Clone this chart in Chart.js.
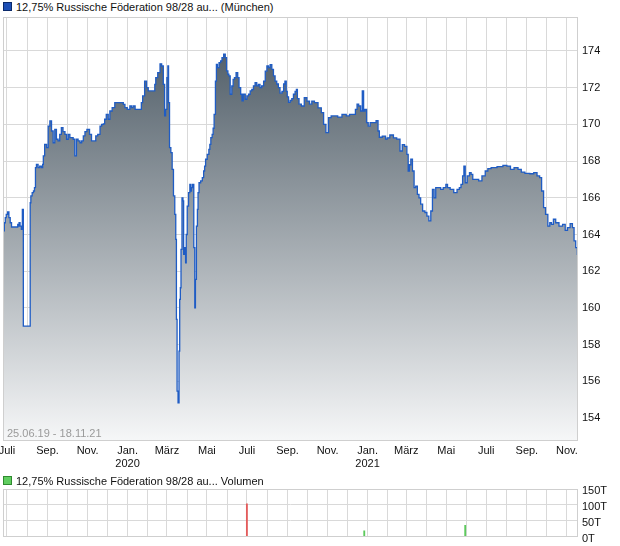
<!DOCTYPE html>
<html>
<head>
<meta charset="utf-8">
<script src="https://cdn.jsdelivr.net/npm/chart.js@4.4.1/dist/chart.umd.min.js"></script>
<style>
  html, body { margin: 0; padding: 0; background: #fff; }
  body { width: 620px; height: 546px; position: relative; overflow: hidden; font-family: 'Liberation Sans', Arial, sans-serif; }
  .legend { position: absolute; left: 16px; font-size: 11px; color: #111; white-space: nowrap; line-height: 14px; }
  .sq { position: absolute; left: 3px; width: 7px; height: 7px; border: 1px solid; }
  #range { position: absolute; left: 7px; top: 427px; font-size: 11px; color: #9a9a9a; white-space: nowrap; }
  #mainWrap { position: absolute; left: 0; top: 0; width: 620px; height: 475px; }
  #volWrap { position: absolute; left: 0; top: 470px; width: 620px; height: 76px; }
</style>
</head>
<body>
<div class="sq" style="top:2px;background:#1d4fb5;border-color:#0b2a6b;"></div>
<div class="legend" style="top:0px;">12,75% Russische Föderation 98/28 au... (München)</div>
<div id="mainWrap"><canvas id="main" width="620" height="475"></canvas></div>
<div class="sq" style="top:476px;background:#5fcd5f;border-color:#2f8a2f;"></div>
<div class="legend" style="top:474px;">12,75% Russische Föderation 98/28 au... Volumen</div>
<div id="volWrap"><canvas id="vol" width="620" height="76"></canvas></div>
<div id="range">25.06.19 - 18.11.21</div>
<script>
// Tage seit 25.06.2019 (Start) bis 18.11.2021 (Ende)
const startDate = Date.UTC(2019, 5, 25);
const totalDays = 877;

const priceDays = [0,1,3,4,6,8,10,12,14,22,23,24,25,27,29,30,32,41,42,43,46,47,49,50,52,55,57,60,61,62,65,68,70,73,75,78,80,83,85,88,90,93,96,98,101,103,106,108,111,113,116,119,121,124,126,130,134,136,141,142,147,149,152,154,156,159,162,164,169,172,182,185,187,192,195,197,200,203,210,212,214,218,220,223,231,232,234,238,241,243,246,247,249,251,252,253,255,257,259,261,263,264,265,266,268,269,270,271,272,274,275,276,278,279,280,282,284,286,287,288,290,292,293,294,296,297,298,300,303,305,307,308,310,313,315,316,318,320,321,323,325,326,328,331,333,335,338,340,342,344,345,348,350,352,354,357,359,361,364,365,368,371,373,376,378,381,383,386,388,391,393,396,399,401,404,406,409,411,414,416,419,421,424,427,429,431,433,434,437,439,442,444,447,448,450,453,457,462,465,470,472,478,483,488,490,495,498,503,508,513,521,526,531,536,539,541,544,547,549,551,553,556,558,562,567,571,573,575,582,585,587,593,598,603,608,610,615,617,619,621,623,626,628,631,633,636,638,642,645,648,651,654,656,659,661,666,669,674,677,679,685,690,695,697,700,702,704,706,710,713,715,718,723,728,733,738,741,748,759,766,771,777,782,789,792,800,807,812,817,820,823,826,829,833,835,838,841,845,851,856,859,863,867,870,872,875,877];

const prices = [164.7,164.2,164.64,164.92,165.1,165.23,164.92,164.64,164.41,164.41,164.55,164.46,164.64,164.46,164.28,165.37,159.01,159.01,165.73,166.1,166.28,166.37,166.55,167.64,167.82,167.64,167.73,167.64,167.82,168.28,168.91,168.73,169.91,170.19,169.64,169.0,169.73,169.19,169.1,169.46,169.82,169.6,169.46,169.19,169.46,169.28,169.28,169.19,168.28,169.19,169.1,169.0,169.1,169.37,169.6,169.73,169.46,169.1,169.1,169.37,169.46,169.91,170.0,170.03,170.28,170.55,170.28,170.73,170.91,171.18,171.18,171.09,170.91,170.82,171.0,170.91,171.0,170.82,170.82,171.18,171.55,172.36,172.0,171.82,171.82,172.18,172.55,172.82,173.3,173.18,172.18,170.46,170.82,172.55,173.18,171.18,168.73,168.46,167.55,166.1,165.1,163.74,159.38,155.47,154.83,157.65,160.47,161.1,163.19,166.0,165.83,162.92,163.28,162.46,164.0,165.55,166.28,166.73,166.37,166.55,166.73,163.28,160.01,161.56,164.46,165.37,166.28,166.82,166.92,167.1,167.46,167.73,168.1,168.37,168.64,168.91,169.28,169.46,169.79,170.55,172.36,173.27,173.09,173.36,173.46,173.64,173.82,173.64,172.91,172.73,172.64,171.64,172.09,172.45,172.55,172.82,172.55,172.0,171.64,171.28,171.64,171.37,171.55,171.64,171.82,171.9,172.1,172.27,172.1,172.18,172.0,172.1,172.36,172.9,173.18,173.1,173.25,173.0,172.64,172.36,172.2,172.0,171.7,171.8,172.2,172.36,171.8,171.5,171.2,171.3,171.4,171.64,171.8,171.9,171.4,171.1,171.0,171.45,171.27,171.1,171.27,171.18,170.9,170.64,170.0,169.55,170.37,170.46,170.46,170.4,170.55,170.46,170.55,170.55,170.82,171.1,171.0,170.73,171.82,170.73,170.82,170.1,169.9,170.1,170.1,170.2,169.64,169.3,169.36,169.2,169.27,169.42,169.27,169.2,168.55,168.9,168.8,168.37,167.46,167.8,168.1,167.46,166.55,166.64,166.19,166.0,165.65,165.28,165.2,165.0,164.74,165.28,166.46,166.0,166.55,166.55,166.46,166.55,166.73,166.55,166.46,166.28,166.46,166.55,166.73,167.19,167.73,166.82,167.19,167.37,167.28,167.0,167.0,166.92,167.19,167.46,167.59,167.64,167.7,167.77,167.73,167.55,167.64,167.55,167.4,167.33,167.31,167.37,167.19,167.1,166.37,165.46,165.1,164.46,164.64,164.55,164.83,164.64,164.46,164.55,164.23,164.37,164.59,164.37,163.65,163.28,162.92];

// Volumen (Tausend Stück)
const volumeDays = [372, 551, 705];
const volumes = [103, 18, 35];
const volumeUp = [false, true, true];

const priceTicks = [154,156,158,160,162,164,166,168,170,172,174];
const volumeTicks = [0, 50, 100, 150];
const monthNames = ['Jan.', '', 'März', '', 'Mai', '', 'Juli', '', 'Sep.', '', 'Nov.', ''];

// month-start ticks
const monthTicks = [];
const monthLabels = {};
for (let y = 2019, m = 6; ; ) {
  const d = Math.round((Date.UTC(y, m, 1) - startDate) / 86400000);
  if (d > totalDays) break;
  monthTicks.push(d);
  let lab = monthNames[m];
  if (m === 0) lab = [lab, String(y)];
  monthLabels[d] = lab;
  m++; if (m > 11) { m = 0; y++; }
}

const GRID = '#d9d9d9';
const FONT = "'Liberation Sans', Arial, sans-serif";

const boxPlugin = {
  id: 'box',
  afterDraw(chart) {
    const { ctx, chartArea: a } = chart;
    ctx.save();
    ctx.strokeStyle = '#cfcfcf';
    ctx.lineWidth = 1;
    ctx.strokeRect(Math.round(a.left) + 0.5, Math.round(a.top) + 0.5, Math.round(a.right - a.left) - 1, Math.round(a.bottom - a.top) - 1);
    ctx.restore();
  }
};

const xScale = (showLabels, h) => ({
  type: 'linear', min: 0, max: totalDays, offset: false,
  afterBuildTicks: s => { s.ticks = monthTicks.map(v => ({ value: v })); },
  afterFit: s => { s.height = h; s.paddingLeft = 0; s.paddingRight = 0; },
  ticks: {
    display: showLabels, autoSkip: false, maxRotation: 0, minRotation: 0, padding: 3,
    color: '#111', font: { family: FONT, size: 11, lineHeight: 1.18 },
    callback: v => monthLabels[v] !== undefined ? monthLabels[v] : ''
  },
  grid: { color: GRID, lineWidth: 1, drawTicks: false, offset: false },
  border: { display: false }
});

new Chart(document.getElementById('main'), {
  type: 'line',
  data: {
    datasets: [{
      data: priceDays.map((d, i) => ({ x: d, y: prices[i] })),
      borderColor: '#1f5cc4',
      borderWidth: 1.3,
      pointRadius: 0,
      stepped: 'middle',
      fill: 'start',
      backgroundColor: (c) => {
        const a = c.chart.chartArea;
        if (!a) return 'rgba(0,0,0,0)';
        const g = c.chart.ctx.createLinearGradient(0, a.top, 0, a.bottom);
        g.addColorStop(0, '#45535e');
        g.addColorStop(1, '#f6f7f8');
        return g;
      }
    }]
  },
  options: {
    responsive: false, animation: false,
    layout: { padding: { left: 3, top: 17, right: 0, bottom: 0 } },
    plugins: { legend: { display: false }, tooltip: { enabled: false } },
    scales: {
      x: xScale(true, 34),
      y: {
        position: 'right', min: 152.75, max: 175.85,
        afterBuildTicks: s => { s.ticks = priceTicks.map(v => ({ value: v })); },
        afterFit: s => { s.width = 42; s.paddingTop = 0; s.paddingBottom = 0; },
        ticks: { autoSkip: false, padding: 4, color: '#111', font: { family: FONT, size: 11 }, callback: v => String(v) },
        grid: { color: GRID, lineWidth: 1, drawTicks: false },
        border: { display: false }
      }
    }
  },
  plugins: [boxPlugin]
});

new Chart(document.getElementById('vol'), {
  type: 'bar',
  data: {
    datasets: [{
      data: volumeDays.map((d, i) => ({ x: d, y: volumes[i] })),
      backgroundColor: volumeUp.map(u => u ? '#5cc95c' : '#e35b5b'),
      barThickness: 1.2
    }]
  },
  options: {
    responsive: false, animation: false,
    layout: { padding: { left: 3, top: 19, right: 0, bottom: 0 } },
    plugins: { legend: { display: false }, tooltip: { enabled: false } },
    scales: {
      x: xScale(false, 9.5),
      y: {
        position: 'right', min: 0, max: 150,
        afterBuildTicks: s => { s.ticks = volumeTicks.map(v => ({ value: v })); },
        afterFit: s => { s.width = 42; s.paddingTop = 0; s.paddingBottom = 0; },
        ticks: { autoSkip: false, padding: 4, labelOffset: 2, color: '#111', font: { family: FONT, size: 11 }, callback: v => v + 'T' },
        grid: { color: GRID, lineWidth: 1, drawTicks: false },
        border: { display: false }
      }
    }
  },
  plugins: [boxPlugin]
});
</script>
</body>
</html>
